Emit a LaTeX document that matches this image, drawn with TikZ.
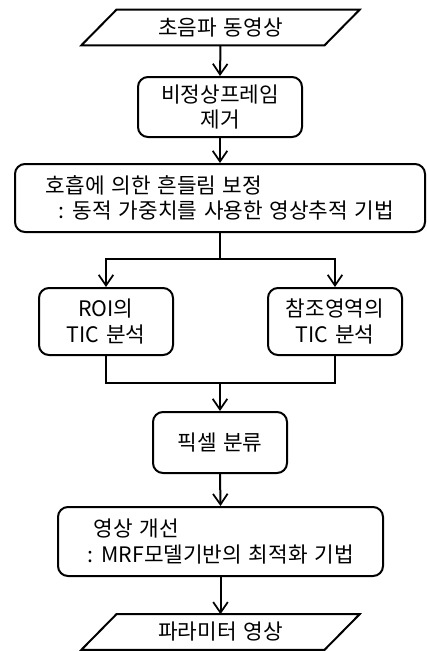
\documentclass[tikz,border=0pt]{standalone}
\usepackage{fontspec}
\setmainfont{Noto Sans CJK KR}[WordSpace=1.4]
\usetikzlibrary{arrows.meta}
\tikzset{
	flowbox/.style={draw, line width=1.5pt, rounded corners=7.5pt, align=center, inner sep=2pt,
		font=\fontsize{16pt}{19pt}\selectfont},
	iobox/.style={minimum width=182pt, minimum height=26.25pt, inner sep=0pt,
		font=\fontsize{16pt}{19pt}\selectfont},
	link/.style={line width=1.5pt},
	arr/.style={line width=1.5pt, -{Straight Barb[length=8pt,width=11pt,line width=1.3pt]}}
}
\def\slantbox(#1){\draw[link] ([xshift=13.125pt]#1.north west) -- ([xshift=13.125pt]#1.north east)
	-- ([xshift=-13.125pt]#1.south east) -- ([xshift=-13.125pt]#1.south west) -- cycle;}

\begin{document}
\begin{tikzpicture}[x=0.75pt, y=-0.75pt]
		%%%%% START %%%%%
		\useasboundingbox (0, 0) rectangle (427, 651);
		
		\node[iobox] (src) at (220.5, 27.5) {초음파 동영상};
		\slantbox(src);
		\node[flowbox, minimum width=123pt, minimum height=45pt] (rm) at (220, 107) {비정상프레임\\제거};
		\node[flowbox, minimum width=307.5pt, minimum height=51pt, align=left] (track) at (220, 198)
			{호흡에 의한 흔들림 보정\\\hspace{0.6em}: 동적 가중치를 사용한 영상추적 기법};
		
		\node[flowbox, minimum width=100.5pt, minimum height=50.25pt] (roi) at (106, 321.5) {ROI의\\TIC 분석};
		\node[flowbox, minimum width=100.5pt, minimum height=50.25pt] (ref) at (335, 321.5) {참조영역의\\TIC 분석};
		
		\node[flowbox, minimum width=100.5pt, minimum height=45.75pt] (cls) at (220, 442.5) {픽셀 분류};
		\node[flowbox, minimum width=243.75pt, minimum height=51.75pt, align=left] (enh) at (220.5, 541.5)
			{\hspace{0.3em}영상 개선\\: MRF모델기반의 최적화 기법};
		\node[iobox] (out) at (220.5, 632) {파라미터 영상};
		\slantbox(out);
		
		\coordinate (split) at (220, 259);
		\coordinate (join) at (220, 383);
		
		\draw[arr] (src.south) -- (rm.north);
		\draw[arr] (rm.south) -- (track.north);
		
		\draw[link] (track.south) -- (split);
		\draw[arr] (split) -| (roi.north);
		\draw[arr] (split) -| (ref.north);
		
		\draw[link] (roi.south) |- (join);
		\draw[link] (ref.south) |- (join);
		\draw[arr] (join) -- (cls.north);
		
		\draw[arr] (cls.south) -- (enh.north);
		\draw[arr] (enh.south) -- (out.north);
		%%%%% END %%%%%
	\end{tikzpicture}
\end{document}
